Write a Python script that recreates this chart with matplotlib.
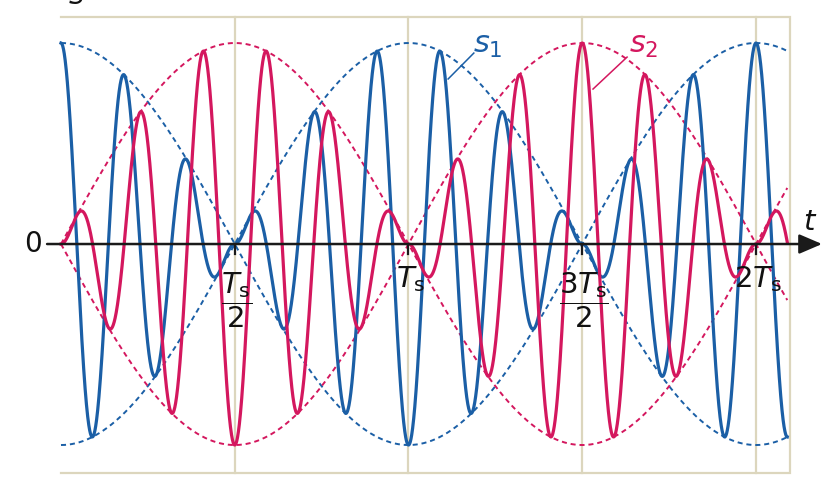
import numpy as np
import matplotlib
matplotlib.use('Agg')
import matplotlib.pyplot as plt

# ---- values ----
Ts = 1.0                       # period of the beat envelope (one grid step = Ts/2)
carrier_cycles_per_Ts = 5.5    # 11 half-oscillations of the carrier per Ts
amplitude = 1.0
t_end = 2.09                   # curves stop at about 2.09 Ts
tick_positions = [0.5, 1.0, 1.5, 2.0]
tick_labels = [r'$\dfrac{T_\mathrm{s}}{2}$', r'$T_\mathrm{s}$',
               r'$\dfrac{3T_\mathrm{s}}{2}$', r'$2T_\mathrm{s}$']
series_names = [r'$s_1$', r'$s_2$']

# ---- style ----
BLUE = '#1b5fa6'
RED = '#d4175e'
BEIGE = '#dcd6bd'
AXC = '#1a1a1a'
plt.rcParams['mathtext.fontset'] = 'dejavusans'
plt.rcParams['font.family'] = ['DejaVu Sans']

t = np.linspace(0, t_end * Ts, 4000)
env1 = amplitude * np.abs(np.cos(np.pi * t / Ts))
env2 = amplitude * np.abs(np.sin(np.pi * t / Ts))
w = 2 * np.pi * carrier_cycles_per_Ts / Ts
s1 = env1 * np.cos(w * t)
s2 = env2 * np.sin(w * t)

fig = plt.figure(figsize=(8.4, 4.8), dpi=100)
ax = fig.add_axes([0, 0, 1, 1])
ax.set_xlim(-0.1755, 2.2417)
ax.set_ylim(-1.174, 1.214)
ax.axis('off')

# beige frame / grid
ytop, ybot, xr = 1.129, -1.139, 2.098
ax.plot([0, xr, xr, 0], [ytop, ytop, ybot, ybot], color=BEIGE, lw=1.6, zorder=1,
        solid_joinstyle='miter')
for x in tick_positions:
    ax.plot([x, x], [ybot, ytop], color=BEIGE, lw=1.6, zorder=1)

# dashed envelopes
dash = (0, (2.6, 2.0))
ax.plot(t, env1, color=BLUE, lw=1.4, ls=dash, zorder=2)
ax.plot(t, -env1, color=BLUE, lw=1.4, ls=dash, zorder=2)
ax.plot(t, env2, color=RED, lw=1.4, ls=dash, zorder=2)
ax.plot(t, -env2, color=RED, lw=1.4, ls=dash, zorder=2)

# signals
ax.plot(t, s1, color=BLUE, lw=2.3, zorder=4)
ax.plot(t, s2, color=RED, lw=2.3, zorder=5)

# axes with arrows
arrow = dict(arrowstyle='-|>,head_length=0.7,head_width=0.3', color=AXC, lw=1.8,
             mutation_scale=20, shrinkA=0, shrinkB=0)
ax.annotate('', xy=(2.19, 0), xytext=(-0.04, 0), arrowprops=arrow, zorder=6)
ax.annotate('', xy=(0, 1.26), xytext=(0, -1.2), arrowprops=arrow, zorder=6)

# ticks
for x in tick_positions:
    ax.plot([x, x], [0, -0.05], color=AXC, lw=1.6, zorder=6)

# tick labels
label_y = [-0.279, -0.174, -0.279, -0.174]
for x, lab, ly in zip(tick_positions, tick_labels, label_y):
    ax.text(x + 0.006, ly, lab, ha='center', va='center', fontsize=21, color='#111', zorder=7)

ax.text(-0.08, 0, '0', ha='center', va='center', fontsize=20, color='#111')
ax.text(2.155, 0.109, r'$t$', ha='center', va='center', fontsize=21, color='#111')
ax.text(0.045, 1.235, r'$s$', ha='center', va='center', fontsize=21, color='#111')

# series labels with leader lines
ax.text(1.228, 0.99, series_names[0], ha='center', va='center', fontsize=22, color=BLUE)
ax.plot([1.114, 1.188], [0.821, 0.950], color=BLUE, lw=1.1, zorder=6)
ax.text(1.676, 0.99, series_names[1], ha='center', va='center', fontsize=22, color=RED)
ax.plot([1.531, 1.629], [0.771, 0.930], color=RED, lw=1.1, zorder=6)

fig.savefig('out.png', dpi=100)
